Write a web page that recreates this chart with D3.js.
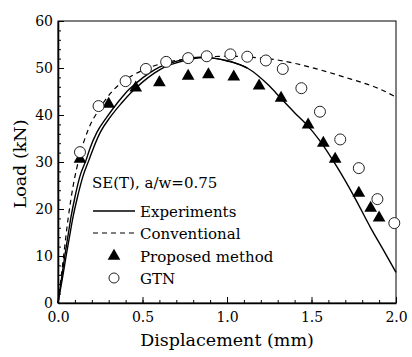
<!DOCTYPE html>
<html>
<head>
<meta charset="utf-8">
<script src="https://cdn.jsdelivr.net/npm/d3@7"></script>
<style>
  body { margin: 0; background: #fff; }
</style>
</head>
<body>
<svg id="chart" width="412" height="357" font-family="'DejaVu Serif', serif"></svg>
<script>
// test curves (two specimens), displacement mm / load kN
var experiment1 = [[0,0],[0.02,5],[0.04,10],[0.06,14.5],[0.077,18.3],[0.1,22.5],[0.13,27],[0.166,30.4],[0.19,33],[0.23,36.3],[0.29,39.6],[0.35,42.5],[0.40,44.7],[0.47,47],[0.54,48.9],[0.60,50.2],[0.66,51],[0.75,51.9],[0.84,52.3],[0.92,52.1],[1.0,51.5],[1.12,50.0],[1.25,46.2],[1.32,43.5],[1.40,40.5],[1.47,38.0],[1.55,34.5],[1.65,29],[1.75,22.8],[1.85,16],[1.93,11],[2.0,6.5]];
var experiment2 = [[0,0],[0.025,5],[0.048,10],[0.07,14.5],[0.089,18.3],[0.115,22.5],[0.148,27],[0.183,30.4],[0.21,33],[0.25,36.3],[0.31,39.6],[0.375,42.5],[0.43,44.7],[0.50,47],[0.57,48.9],[0.63,50.2],[0.69,51],[0.78,51.8],[0.86,52.2],[0.94,52.0],[1.02,51.4],[1.12,50.0]];
var conventional = [[0,0],[0.03,9],[0.06,18],[0.09,25],[0.13,31.5],[0.18,37],[0.24,41],[0.32,45],[0.40,47.5],[0.5,49.5],[0.6,50.8],[0.7,51.6],[0.8,52.1],[0.9,52.4],[1.0,52.5],[1.1,52.4],[1.2,52.1],[1.3,51.7],[1.4,51.0],[1.5,50.1],[1.6,49.1],[1.7,48.0],[1.8,46.9],[1.9,45.6],[2.0,43.8]];
var proposed = [[0.13,30.6],[0.30,42.3],[0.46,45.8],[0.60,46.9],[0.77,48.3],[0.89,48.6],[1.04,48.1],[1.19,46.2],[1.32,43.6],[1.48,37.9],[1.57,34.0],[1.64,30.6],[1.78,23.4],[1.85,20.2],[1.90,18.1]];
var gtn = [[0.13,32.1],[0.24,41.9],[0.40,47.2],[0.52,49.8],[0.64,51.3],[0.77,52.1],[0.88,52.5],[1.02,52.9],[1.12,52.4],[1.23,51.6],[1.33,49.8],[1.44,45.7],[1.55,40.7],[1.67,34.8],[1.78,28.7],[1.89,22.1],[1.99,17.0]];
var xTicks = [0, 0.5, 1.0, 1.5, 2.0];
var yTicks = [0, 10, 20, 30, 40, 50, 60];
var legendItems = ["Experiments", "Conventional", "Proposed method", "GTN"];

var svg = d3.select("#chart");
var margin = {left: 58, top: 21, right: 16, bottom: 54};
var W = 412 - margin.left - margin.right,
    H = 357 - margin.top - margin.bottom;

var x = d3.scaleLinear().domain([0, 2]).range([0, W]);
var y = d3.scaleLinear().domain([0, 60]).range([H, 0]);

var g = svg.append("g").attr("transform", "translate(" + margin.left + "," + margin.top + ")");

// frame
g.append("rect").attr("width", W).attr("height", H)
  .attr("fill", "none").attr("stroke", "#000").attr("stroke-width", 1);

// minor ticks
var xMinor = d3.range(0, 2.001, 0.1), yMinor = d3.range(0, 60.001, 2);
g.append("g").attr("transform", "translate(0," + H + ")")
  .call(d3.axisBottom(x).tickValues(xMinor).tickSize(-3).tickFormat(""))
  .call(function (a) { a.select(".domain").remove(); });
g.append("g")
  .call(d3.axisLeft(y).tickValues(yMinor).tickSize(-3).tickFormat(""))
  .call(function (a) { a.select(".domain").remove(); });

// major ticks
var xAxis = g.append("g").attr("transform", "translate(0," + H + ")")
  .call(d3.axisBottom(x).tickValues(xTicks).tickSizeInner(-6).tickSizeOuter(0).tickPadding(11).tickFormat(d3.format(".1f")));
var yAxis = g.append("g")
  .call(d3.axisLeft(y).tickValues(yTicks).tickSizeInner(-6).tickSizeOuter(0).tickPadding(5).tickFormat(d3.format("d")));
[xAxis, yAxis].forEach(function (a) {
  a.attr("font-family", null);
  a.select(".domain").attr("stroke-width", 1.6);
  a.selectAll("text").attr("font-size", 14).attr("fill", "#000");
});
xAxis.selectAll("text").attr("dy", "0.55em");
yAxis.selectAll("text").attr("dy", "0.3em");

// axis titles
svg.append("text").attr("x", margin.left + W / 2).attr("y", 346)
  .attr("text-anchor", "middle").attr("font-size", 17.5).text("Displacement (mm)");
svg.append("text").attr("transform", "translate(26," + (margin.top + H / 2 + 2) + ") rotate(-90)")
  .attr("text-anchor", "middle").attr("font-size", 17.5).text("Load (kN)");

var line = d3.line().x(function (d) { return x(d[0]); }).y(function (d) { return y(d[1]); }).curve(d3.curveMonotoneX);

g.append("path").datum(conventional).attr("d", line)
  .attr("fill", "none").attr("stroke", "#000").attr("stroke-width", 1.2).attr("stroke-dasharray", "5,4");
[experiment1, experiment2].forEach(function (s) {
  g.append("path").datum(s).attr("d", line)
    .attr("fill", "none").attr("stroke", "#000").attr("stroke-width", 1.4);
});

var tri = d3.symbol().type(d3.symbolTriangle).size(70);
g.selectAll(".tri").data(proposed).enter().append("path")
  .attr("transform", function (d) { return "translate(" + x(d[0]) + "," + y(d[1]) + ")"; })
  .attr("d", tri).attr("fill", "#000");

g.selectAll(".gtn").data(gtn).enter().append("circle")
  .attr("cx", function (d) { return x(d[0]); }).attr("cy", function (d) { return y(d[1]); })
  .attr("r", 5.5).attr("fill", "#fff").attr("stroke", "#222").attr("stroke-width", 1);

// legend
var lg = svg.append("g").attr("font-size", 15);
lg.append("text").attr("x", 92).attr("y", 188).text("SE(T), a/w=0.75");
var rowY = [211, 233, 256, 278];
legendItems.forEach(function (name, i) {
  var yy = rowY[i];
  if (i === 0) lg.append("line").attr("x1", 93).attr("x2", 135).attr("y1", yy).attr("y2", yy).attr("stroke", "#000").attr("stroke-width", 1.4);
  if (i === 1) lg.append("line").attr("x1", 93).attr("x2", 135).attr("y1", yy).attr("y2", yy).attr("stroke", "#000").attr("stroke-width", 1.2).attr("stroke-dasharray", "5,4");
  if (i === 2) lg.append("path").attr("transform", "translate(114," + yy + ")").attr("d", tri).attr("fill", "#000");
  if (i === 3) lg.append("circle").attr("cx", 114).attr("cy", yy).attr("r", 5).attr("fill", "#fff").attr("stroke", "#222");
  lg.append("text").attr("x", 140).attr("y", yy + 5.5).text(name);
});
</script>
</body>
</html>
